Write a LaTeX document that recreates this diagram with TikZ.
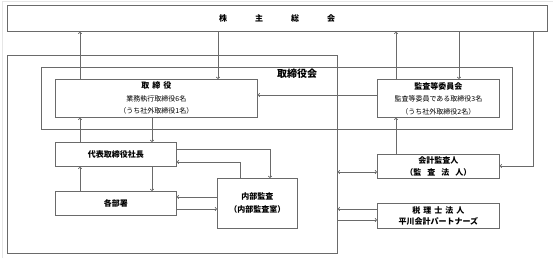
\documentclass[tikz,border=0pt]{standalone}
\usepackage{fontspec}
\newfontfamily\jp{Noto Sans CJK JP}
\usetikzlibrary{arrows.meta}
\definecolor{ln}{HTML}{6A6A6A}
\definecolor{edge}{HTML}{E6E6E6}
\begin{document}
\begin{tikzpicture}[x=1pt,y=-1pt,
  box/.style={draw=ln, line width=0.8pt, anchor=north west, inner sep=0pt, align=center, font=\jp\fontsize{7}{12.5}\selectfont, text=black},
  ttl/.style={font=\jp\bfseries\fontsize{8}{12.5}\selectfont},
  conn/.style={draw=ln, line width=0.7pt},
  arr/.style={conn, -{To[length=2.2pt,width=4pt]}},
  darr/.style={conn, {To[length=2.2pt,width=4pt]}-{To[length=2.2pt,width=4pt]}}]
\useasboundingbox (0,0) rectangle (553,258);
\fill[white] (0,0) rectangle (553,258);
\draw[edge, line width=1pt] (2.5,258) -- (2.5,1.5) -- (553,1.5);

% frames
\node[box, minimum width=540pt, minimum height=26pt] (kab) at (7,5) {};
\node[font=\jp\bfseries\fontsize{8}{10}\selectfont] (kabt) at (277,18.5) {株\hspace{28pt}主\hspace{28pt}総\hspace{28pt}会};
\node[box, minimum width=330pt, minimum height=198pt] (kaisha) at (7,55) {};
\node[box, minimum width=471pt, minimum height=62pt] (kai) at (41,67) {};
\node[font=\jp\bfseries\fontsize{10}{12}\selectfont] (kailbl) at (297,74) {取締役会};

% boxes
\node[box, minimum width=202pt, minimum height=38pt] (tori) at (55,79)
  {{\bfseries\fontsize{8}{12.5}\selectfont 取\hspace{3pt}締\hspace{3pt}役}\\業務執行取締役6名\\（うち社外取締役1名）};
\node[box, minimum width=122pt, minimum height=38pt] (kansa) at (377,79)
  {{\bfseries\fontsize{8}{12.5}\selectfont 監査等委員会}\\監査等委員である取締役3名\\（うち社外取締役2名）};
\node[box, minimum width=121pt, minimum height=24pt, font=\jp\bfseries\fontsize{8}{10}\selectfont] (daihyo) at (55,142) {代表取締役社長};
\node[box, minimum width=121pt, minimum height=24pt, font=\jp\bfseries\fontsize{8}{10}\selectfont] (kakubu) at (55,191) {各部署};
\node[box, minimum width=80pt, minimum height=50pt, font=\jp\bfseries\fontsize{8}{13}\selectfont] (naibu) at (217,178) {内部監査\\（内部監査室）};
\node[box, minimum width=122pt, minimum height=24pt, font=\jp\bfseries\fontsize{8}{11.5}\selectfont] (kaikei) at (377,154) {会計監査人\\（監\hspace{6pt}査\hspace{6pt}法\hspace{6pt}人）};
\node[box, minimum width=122pt, minimum height=25pt, font=\jp\bfseries\fontsize{8}{11.5}\selectfont] (zeiri) at (377,203) {税\hspace{3pt}理\hspace{3pt}士\hspace{3pt}法\hspace{3pt}人\\平川会計パートナーズ};

% x positions
\coordinate (xa) at (80,0);
\coordinate (xb) at (218,0);
\coordinate (xc) at (396,0);
\coordinate (xd) at (459,0);
\coordinate (xe) at (533,0);
\coordinate (xf) at (152,0);
\coordinate (xg) at (270,0);
\coordinate (xh) at (240,0);
\coordinate (ya) at (0,95);
\coordinate (yb) at (0,149);
\coordinate (yc) at (0,162);
\coordinate (yd) at (0,197);
\coordinate (ye) at (0,209);
\coordinate (yf) at (0,166);
\coordinate (yg) at (0,172);
\coordinate (yh) at (0,220);

% connectors
\draw[arr] (tori.north -| xa) -- (kab.south -| xa);
\draw[arr] (kab.south -| xb) -- (tori.north -| xb);
\draw[arr] (kansa.north -| xc) -- (kab.south -| xc);
\draw[arr] (kab.south -| xd) -- (kansa.north -| xd);
\draw[arr] (kab.south -| xe) -- (xe |- yf) -- (kaikei.east |- yf);
\draw[arr] (kansa.west |- ya) -- (tori.east |- ya);
\draw[arr] (tori.south -| xf) -- (daihyo.north -| xf);
\draw[arr] (daihyo.north -| xa) -- (tori.south -| xa);
\draw[arr] (daihyo.south -| xf) -- (kakubu.north -| xf);
\draw[arr] (kakubu.north -| xa) -- (daihyo.south -| xa);
\draw[arr] (daihyo.east |- yb) -- (xg |- yb) -- (naibu.north -| xg);
\draw[arr] (naibu.north -| xh) -- (xh |- yc) -- (daihyo.east |- yc);
\draw[arr] (naibu.west |- yd) -- (kakubu.east |- yd);
\draw[arr] (kakubu.east |- ye) -- (naibu.west |- ye);
\draw[darr] (kaisha.east |- yg) -- (kaikei.west |- yg);
\draw[arr] (zeiri.west |- ye) -- (kaisha.east |- ye);
\draw[arr] (kaisha.east |- yh) -- (zeiri.west |- yh);
\draw[arr] (kaikei.north -| xc) -- (kansa.south -| xc);
\end{tikzpicture}
\end{document}
